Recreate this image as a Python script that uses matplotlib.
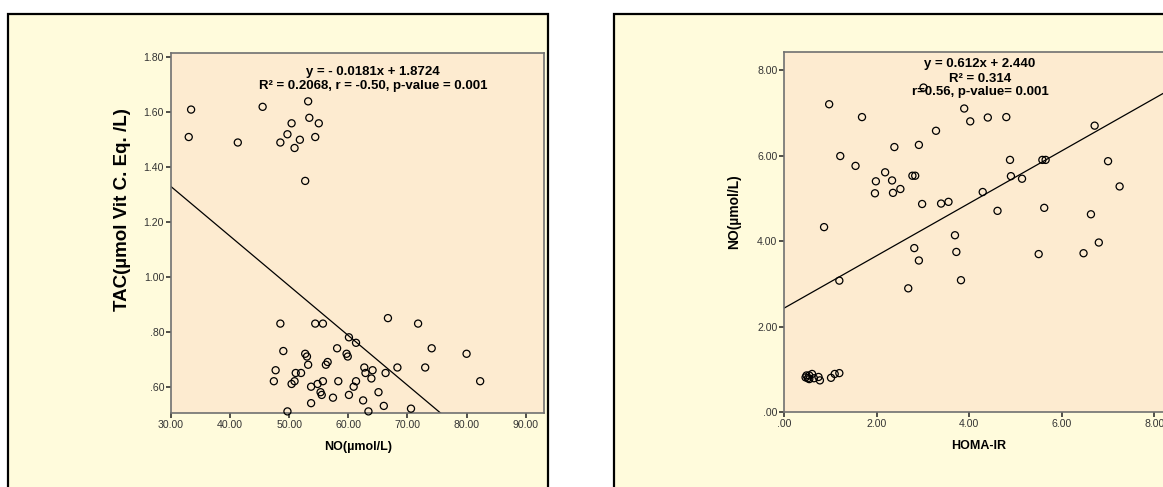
import matplotlib
matplotlib.use("Agg")
import matplotlib.pyplot as plt
from matplotlib.patches import Rectangle
from matplotlib.ticker import FuncFormatter, MultipleLocator
import numpy as np

plt.rcParams['font.family'] = ['Liberation Sans', 'DejaVu Sans']

# ---- NO vs TAC ----
no_level = [33.0, 33.4, 41.3, 45.5, 48.5, 49.7, 50.4, 50.9, 51.8, 53.2, 53.4, 54.4, 55.0, 52.7,
            48.5, 54.4, 55.7, 66.7, 71.8, 60.1, 61.3, 49.0, 58.1, 52.7, 53.0, 59.7, 59.9,
            56.5, 56.2, 53.2, 74.1, 80.0, 68.3, 73.0, 62.7, 62.9, 64.1, 63.9, 66.3, 47.7,
            47.4, 51.1, 52.0, 50.9, 50.4, 53.7, 54.8, 55.7, 58.3, 61.3, 60.9, 82.3, 55.3,
            55.5, 60.1, 57.4, 62.5, 65.1, 53.7, 66.0, 70.6, 49.7, 63.4]
tac_level = [1.51, 1.61, 1.49, 1.62, 1.49, 1.52, 1.56, 1.47, 1.50, 1.64, 1.58, 1.51, 1.56, 1.35,
             0.83, 0.83, 0.83, 0.85, 0.83, 0.78, 0.76, 0.73, 0.74, 0.72, 0.71, 0.72, 0.71,
             0.69, 0.68, 0.68, 0.74, 0.72, 0.67, 0.67, 0.67, 0.65, 0.66, 0.63, 0.65, 0.66,
             0.62, 0.65, 0.65, 0.62, 0.61, 0.60, 0.61, 0.62, 0.62, 0.62, 0.60, 0.62, 0.58,
             0.57, 0.57, 0.56, 0.55, 0.58, 0.54, 0.53, 0.52, 0.51, 0.51]
tac_fit = (-0.0181, 1.8724)

# ---- HOMA-IR vs NO ----
homa_ir = [0.97, 1.68, 1.21, 1.54, 0.86, 1.19, 2.18, 1.98, 1.96, 2.33, 2.35, 2.51, 2.38, 2.91,
           3.28, 3.01, 3.89, 4.02, 4.40, 4.80, 2.77, 2.83, 2.98, 3.39, 3.55, 4.29, 4.61,
           4.88, 4.90, 5.14, 5.58, 5.65, 5.62, 6.71, 7.00, 7.25, 6.63, 6.80, 6.47, 5.50,
           3.69, 3.72, 3.82, 2.81, 2.91, 2.68,
           0.48, 0.51, 0.54, 0.60, 0.54, 0.64, 0.74, 0.77, 1.01, 1.09, 1.19, 0.46]
no_homa = [7.20, 6.90, 5.99, 5.76, 4.33, 3.08, 5.61, 5.40, 5.12, 5.42, 5.13, 5.22, 6.20, 6.25,
           6.58, 7.59, 7.10, 6.80, 6.89, 6.90, 5.53, 5.53, 4.87, 4.88, 4.92, 5.15, 4.71,
           5.90, 5.52, 5.46, 5.90, 5.90, 4.78, 6.70, 5.87, 5.28, 4.63, 3.97, 3.72, 3.70,
           4.14, 3.75, 3.09, 3.84, 3.55, 2.90,
           0.865, 0.80, 0.865, 0.90, 0.78, 0.80, 0.83, 0.75, 0.81, 0.90, 0.92, 0.82]
homa_fit = (0.612, 2.440)

OUTER = '#fffbdc'
INNER = '#fdebd0'


def spss_fmt(v, pos):
    s = f"{v:.2f}"
    return s[1:] if s.startswith("0") else s


def style_axes(ax, xlim, ylim, xstep, ystep):
    ax.set_facecolor(INNER)
    ax.set_xlim(*xlim)
    ax.set_ylim(*ylim)
    ax.xaxis.set_major_locator(MultipleLocator(xstep))
    ax.yaxis.set_major_locator(MultipleLocator(ystep))
    ax.xaxis.set_major_formatter(FuncFormatter(spss_fmt))
    ax.yaxis.set_major_formatter(FuncFormatter(spss_fmt))
    ax.tick_params(direction='out', length=3.5, width=1.1, color='#222222',
                   labelsize=7.6, labelcolor='#333333', pad=1.5)
    for sp in ax.spines.values():
        sp.set_color('#707070')
        sp.set_linewidth(1.2)


fig = plt.figure(figsize=(11.63, 4.87), dpi=100)
fig.patch.set_facecolor('white')

# outer chart frames
for x0, x1 in [(8 / 1163, 547.7 / 1163), (613.7 / 1163, 1.05)]:
    fig.add_artist(Rectangle((x0, -0.05), x1 - x0, 0.97125 + 0.05,
                             transform=fig.transFigure, facecolor=OUTER,
                             edgecolor='black', linewidth=1.6, zorder=-1))

# left: TAC vs NO
ax1 = fig.add_axes([171 / 1163, 0.1513, 373.3 / 1163, 0.7392])
style_axes(ax1, (30, 93.15), (0.503, 1.815), 10, 0.2)
ax1.scatter(no_level, tac_level, s=26, facecolors='none', edgecolors='black',
            linewidths=0.9, zorder=3, clip_on=False)
xs = np.array([30, 93.15])
ax1.plot(xs, tac_fit[0] * xs + tac_fit[1], color='black', linewidth=0.9, zorder=2)
ax1.set_xlabel('NO(µmol/L)', fontsize=9, fontweight='bold', va='center')
ax1.xaxis.set_label_coords(0.5, -0.093)
ax1.set_ylabel('TAC(µmol Vit C. Eq. /L)', fontsize=13.5, fontweight='bold', va='center')
ax1.yaxis.set_label_coords(-0.131, 0.565)
ax1.text(0.5406, 0.949, 'y = - 0.0181x + 1.8724', transform=ax1.transAxes,
         ha='center', va='center', fontsize=9.5, fontweight='bold')
ax1.text(0.5406, 0.909, 'R² = 0.2068, r = -0.50, p-value = 0.001', transform=ax1.transAxes,
         ha='center', va='center', fontsize=9.5, fontweight='bold')

# right: NO vs HOMA-IR
ax2 = fig.add_axes([784.3 / 1163, 0.1530, 388.5 / 1163, 0.7402])
style_axes(ax2, (0, 8.4), (0, 8.42), 2, 2)
ax2.scatter(homa_ir, no_homa, s=26, facecolors='none', edgecolors='black',
            linewidths=0.9, zorder=3, clip_on=False)
xs = np.array([0, 8.4])
ax2.plot(xs, homa_fit[0] * xs + homa_fit[1], color='black', linewidth=0.9, zorder=2)
ax2.set_xlabel('HOMA-IR', fontsize=9, fontweight='bold', va='center')
ax2.xaxis.set_label_coords(0.5, -0.093)
ax2.set_ylabel('NO(µmol/L)', fontsize=10, fontweight='bold', va='center')
ax2.yaxis.set_label_coords(-0.128, 0.557)
ax2.text(0.5037, 0.9667, 'y = 0.612x + 2.440', transform=ax2.transAxes,
         ha='center', va='center', fontsize=9.5, fontweight='bold')
ax2.text(0.5037, 0.926, 'R² = 0.314', transform=ax2.transAxes,
         ha='center', va='center', fontsize=9.5, fontweight='bold')
ax2.text(0.5037, 0.888, 'r=0.56, p-value= 0.001', transform=ax2.transAxes,
         ha='center', va='center', fontsize=9.5, fontweight='bold')

fig.savefig('out.png', dpi=100)
